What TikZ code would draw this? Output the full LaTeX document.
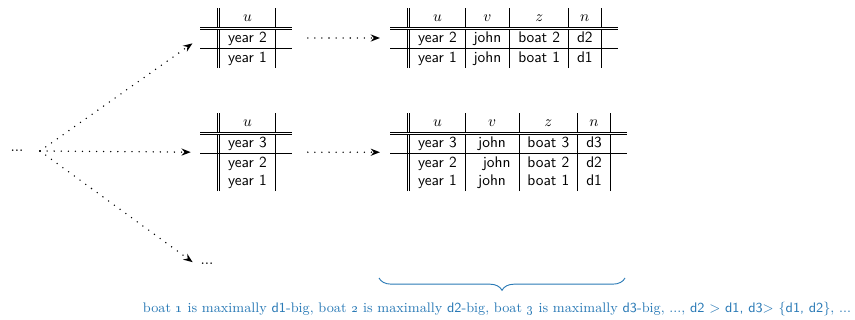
\documentclass[tikz,border=0pt]{standalone}
\usepackage{amsmath}
\usepackage{xcolor}
\usepackage{tikz}
\usetikzlibrary{positioning, arrows.meta, arrows, decorations.pathreplacing}

\definecolor{noteblue}{RGB}{42,122,182}
\setlength{\arrayrulewidth}{0.5pt}
\setlength{\doublerulesep}{1.6pt}
\setlength{\tabcolsep}{5.5pt}

\tikzset{
  tbl/.style={inner sep=0pt, font=\sffamily},
  flow/.style={->, line width=1pt, dash pattern=on 0pt off 4.6pt, line cap=round},
  sumbrace/.style={decorate, decoration={brace, mirror, amplitude=8pt}, noteblue, line width=0.6pt}
}

\begin{document}
\begin{tikzpicture}[x=0.65pt, y=-0.65pt, >={Stealth[length=6pt, width=4.6pt]}]
    \useasboundingbox (0,0) rectangle (855,320);

    \node (lead) at (17,151) {...};
    \coordinate (fork) at (40,151);
    \node (more) at (207,264) {...};

    % first branch: two years
    \node[tbl, anchor=north west] (tA) at (200,8) {%
      \begin{tabular}{l||c|l}
        & $u$ & \\ \hline\hline
        & year 2 & \\ \hline
        & year 1 &
      \end{tabular}};
    \node[tbl, anchor=north west] (tC) at (390,8) {%
      \begin{tabular}{l||c|c|c|c|l}
        & $u$ & $v$ & $z$ & $n$ & \\ \hline\hline
        & year 2 & john & boat 2 & d2 & \\ \hline
        & year 1 & john & boat 1 & d1 &
      \end{tabular}};

    % second branch: three years
    \node[tbl, anchor=north west] (tB) at (200,113) {%
      \begin{tabular}{l||c|l}
        & $u$ & \\ \hline\hline
        & year 3 & \\ \hline
        & year 2 & \\
        & year 1 &
      \end{tabular}};
    \node[tbl, anchor=north west] (tD) at (390,113) {%
      \begin{tabular}{l||c|c|c|c|l}
        & $u$ & $v$ & $z$ & $n$ & \\ \hline\hline
        & year 3 & john & boat 3 & d3 & \\ \hline
        & year 2 & \hspace{6pt}john & boat 2 & d2 & \\
        & year 1 & john & boat 1 & d1 &
      \end{tabular}};

    \draw[flow, shorten >=6pt] (fork) -- (tA.west);
    \draw[flow, shorten >=6pt] (fork) -- (tB.west);
    \draw[flow, shorten >=2pt] (fork) -- (more.west);
    \draw[flow, shorten <=10pt, shorten >=6.5pt] (tA.east) -- (tC.west);
    \draw[flow, shorten <=10pt, shorten >=6.5pt] (tB.east) -- (tD.west);

    % summary under the brace
    \coordinate (braceL) at (379,278);
    \coordinate (braceR) at (625,278);
    \draw[sumbrace] (braceL) -- (braceR);
    \node[noteblue, anchor=base, font=\fontsize{9pt}{11pt}\selectfont] (summary) at (497,312) {boat \oldstylenums{1} is maximally \textsf{d1}-big, boat \oldstylenums{2} is maximally \textsf{d2}-big, boat \oldstylenums{3} is maximally \textsf{d3}-big, ..., \textsf{d2 > d1, d3> \{d1, d2\}}, ...};
\end{tikzpicture}
\end{document}
